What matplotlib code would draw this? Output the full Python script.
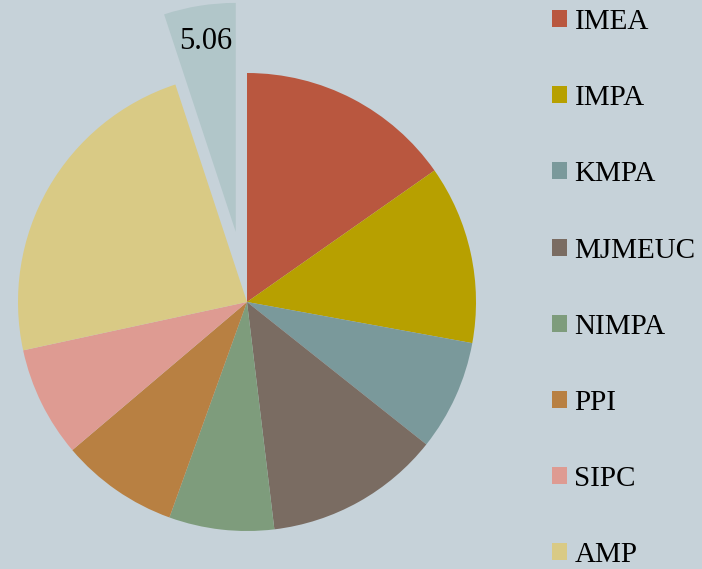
import matplotlib.pyplot as plt
from matplotlib.patches import Patch

# data
categories = ['IMEA', 'IMPA', 'KMPA', 'MJMEUC', 'NIMPA', 'PPI', 'SIPC', 'AMP', 'Other']
values = [15.25, 12.6, 7.8, 12.4, 7.4, 8.3, 7.8, 23.3, 5.06]
colors = ['#b9573f', '#b7a000', '#7a999b', '#7a6c62', '#7e9c7c',
          '#b88042', '#de9b92', '#d9ca85', '#b1c6c9']
explode = [0, 0, 0, 0, 0, 0, 0, 0, 0.31]
shown_labels = ['', '', '', '', '', '', '', '', '5.06']

bg = '#c6d2d9'
W, H = 702, 569
cx, cy, r = 247, 267, 229  # pie centre / radius in pixels (y from bottom)

fig = plt.figure(figsize=(W / 100, H / 100), dpi=100, facecolor=bg)
ax = fig.add_axes([0, 0, 1, 1])
ax.set_facecolor(bg)

ax.pie(values, colors=colors, explode=explode, labels=shown_labels,
       startangle=90, counterclock=False, labeldistance=0.84,
       textprops={'fontsize': 22, 'family': 'Liberation Serif', 'ha': 'center', 'va': 'center'},
       wedgeprops={'linewidth': 0})
ax.set_xlim(-cx / r, (W - cx) / r)
ax.set_ylim(-cy / r, (H - cy) / r)
ax.axis('off')

handles = [Patch(facecolor=c, edgecolor='none') for c in colors[:8]]
fig.legend(handles, categories[:8], loc='upper left',
           bbox_to_anchor=(552 / W, 1 - 9 / H), frameon=False,
           prop={'family': 'Liberation Serif', 'size': 21},
           handlelength=0.52, handleheight=0.52, handletextpad=0.25,
           labelspacing=1.72, borderpad=0, borderaxespad=0)

fig.savefig('out.png', dpi=100, facecolor=bg)
